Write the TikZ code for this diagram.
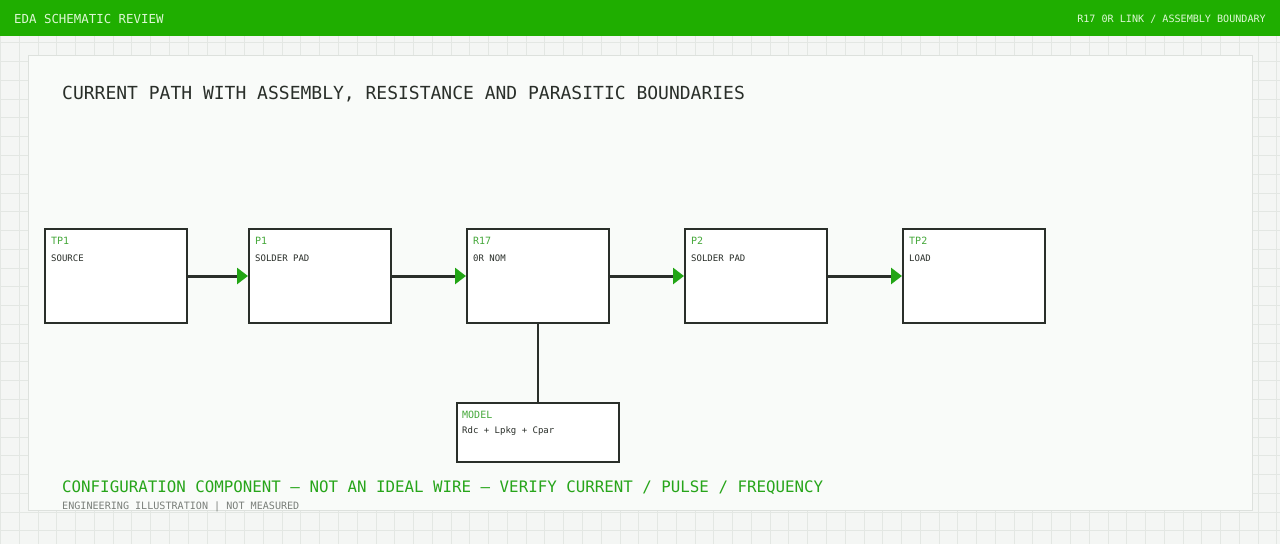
\documentclass[tikz,border=0pt]{standalone}
\usepackage{fontspec}
\setmainfont{DejaVu Sans Mono}
\usetikzlibrary{arrows.meta}
\definecolor{hdrgreen}{HTML}{1FAE00}
\definecolor{hdrtext}{HTML}{DDF7D4}
\definecolor{pagebg}{HTML}{F4F6F4}
\definecolor{gridc}{HTML}{E3E7E3}
\definecolor{panelbg}{HTML}{F9FBF9}
\definecolor{panelline}{HTML}{DDE1DD}
\definecolor{ink}{HTML}{2A2F2A}
\definecolor{tagc}{HTML}{45A83A}
\definecolor{arrowc}{HTML}{22A515}
\definecolor{notec}{HTML}{27A51A}
\definecolor{greyc}{HTML}{7A7F7A}
\tikzset{
  part/.style={draw=ink, line width=2pt, fill=white, minimum width=142pt, minimum height=94pt, inner sep=0pt},
  tag/.style={anchor=west, inner sep=0pt, text=tagc, font=\fontsize{10}{12}\selectfont},
  desc/.style={anchor=west, inner sep=0pt, text=ink, font=\fontsize{9}{11}\selectfont},
  flow/.style={draw=ink, line width=3pt, -{Triangle[length=11pt,width=16pt,color=arrowc]}},
}
\begin{document}
\begin{tikzpicture}[x=1pt,y=-1pt]
                \useasboundingbox (0,0) rectangle (1280,544);
                \fill[pagebg] (0,0) rectangle (1280,544);
                \begin{scope}[shift={(0.5,5.2)}]
                \draw[gridc, line width=0.8pt, step=18.77pt] (-0.5,-5.2) grid (1279.5,538.8);
                \end{scope}
                \fill[hdrgreen] (0,0) rectangle (1280,36);
                \draw[panelline, fill=panelbg, line width=1pt] (28,55) rectangle (1252,510);

                \node[anchor=west, inner sep=0pt, text=hdrtext, font=\fontsize{12.4}{14}\selectfont] (hdrl) at (14,19) {EDA SCHEMATIC REVIEW};
                \node[anchor=east, inner sep=0pt, text=hdrtext, font=\fontsize{10.1}{12}\selectfont] (hdrr) at (1266,19) {R17 0R LINK / ASSEMBLY BOUNDARY};
                \node[anchor=west, inner sep=0pt, text=ink, font=\fontsize{18}{22}\selectfont] (title) at (62,94.5) {CURRENT PATH WITH ASSEMBLY, RESISTANCE AND PARASITIC BOUNDARIES};

                \node[part] (tp1) at (116,276) {}; \node[part] (p1) at (320,276) {}; \node[part] (r17) at (538,276) {};
                \node[part] (p2) at (756,276) {}; \node[part] (tp2) at (974,276) {};
                \node[part, minimum width=162pt, minimum height=59pt] (model) at (538,432.5) {};

                \node[tag] (tp1tag) at ([shift={(7,12.5)}]tp1.north west) {TP1}; \node[desc] (tp1desc) at ([shift={(7,30)}]tp1.north west) {SOURCE};
                \node[tag] (p1tag) at ([shift={(7,12.5)}]p1.north west) {P1}; \node[desc] (p1desc) at ([shift={(7,30)}]p1.north west) {SOLDER PAD};
                \node[tag] (r17tag) at ([shift={(7,12.5)}]r17.north west) {R17}; \node[desc] (r17desc) at ([shift={(7,30)}]r17.north west) {0R NOM};
                \node[tag] (p2tag) at ([shift={(7,12.5)}]p2.north west) {P2}; \node[desc] (p2desc) at ([shift={(7,30)}]p2.north west) {SOLDER PAD};
                \node[tag] (tp2tag) at ([shift={(7,12.5)}]tp2.north west) {TP2}; \node[desc] (tp2desc) at ([shift={(7,30)}]tp2.north west) {LOAD};
                \node[tag] (modeltag) at ([shift={(6,12.5)}]model.north west) {MODEL}; \node[desc] (modeldesc) at ([shift={(6,29.5)}]model.north west) {Rdc + Lpkg + Cpar};

                \draw[flow] (tp1) to (p1); \draw[flow] (p1) to (r17); \draw[flow] (r17) to (p2); \draw[flow] (p2) to (tp2);
                \draw[draw=ink, line width=2.5pt] (r17) to (model);

                \node[anchor=west, inner sep=0pt, text=notec, font=\fontsize{15.8}{19}\selectfont] (note) at (62,487.5) {CONFIGURATION COMPONENT — NOT AN IDEAL WIRE — VERIFY CURRENT / PULSE / FREQUENCY};
                \node[anchor=west, inner sep=0pt, text=greyc, font=\fontsize{10.1}{12}\selectfont] (foot) at (62,507) {ENGINEERING ILLUSTRATION | NOT MEASURED};
\end{tikzpicture}
\end{document}
